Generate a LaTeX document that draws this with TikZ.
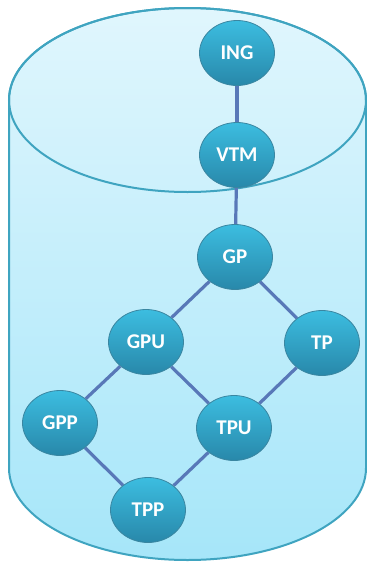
\documentclass[tikz,border=0pt]{standalone}
\usepackage{fontspec}
\setmainfont{Carlito}
\usetikzlibrary{shapes.geometric,backgrounds}
\definecolor{tankline}{HTML}{3FA4C0}
\definecolor{tanktop}{HTML}{E0F6FD}
\definecolor{tankbottom}{HTML}{A6E6F9}
\definecolor{ballhigh}{HTML}{3CBDE0}
\definecolor{balllow}{HTML}{2888AA}
\definecolor{linkcol}{HTML}{5878B8}

\begin{document}
\begin{tikzpicture}[x=1pt,y=-1pt,
 unit/.style={ellipse,minimum width=75pt,minimum height=65pt,inner sep=0pt,
  top color=ballhigh,bottom color=balllow,draw=balllow!80!gray,line width=0.8pt,
  text=white,font=\fontsize{21}{21}\selectfont\bfseries},
 link/.style={draw=linkcol,line width=3.2pt}]

\useasboundingbox (0,0) rectangle (367,563);

% units
\node [unit] (ing) at (237,53) {ING};
\node [unit] (vtm) at (237,155) {VTM};
\node [unit] (gp) at (235,257) {GP};
\node [unit] (gpu) at (146,342) {GPU};
\node [unit] (tp) at (322,343) {TP};
\node [unit] (gpp) at (60,423) {GPP};
\node [unit] (tpu) at (234,428) {TPU};
\node [unit] (tpp) at (148,510) {TPP};

\begin{pgfonlayer}{background}
 % tank
 \shade [top color=tanktop,bottom color=tankbottom,draw=tankline,line width=2pt]
 (9,100) -- (9,468) arc [start angle=180,end angle=0,x radius=178.5,y radius=92]
 -- (366,100) arc [start angle=0,end angle=-180,x radius=178.5,y radius=92] -- cycle;
 \draw [tankline,line width=2pt] (187.5,100) ellipse [x radius=178.5,y radius=92];

 \path [link]
 (ing) edge (vtm)
 (vtm) edge (gp)
 (gp) edge (gpu)
 (gp) edge (tp)
 (gpu) edge (gpp)
 (gpu) edge (tpu)
 (tp) edge (tpu)
 (gpp) edge (tpp)
 (tpu) edge (tpp);
\end{pgfonlayer}

\end{tikzpicture}
\end{document}
